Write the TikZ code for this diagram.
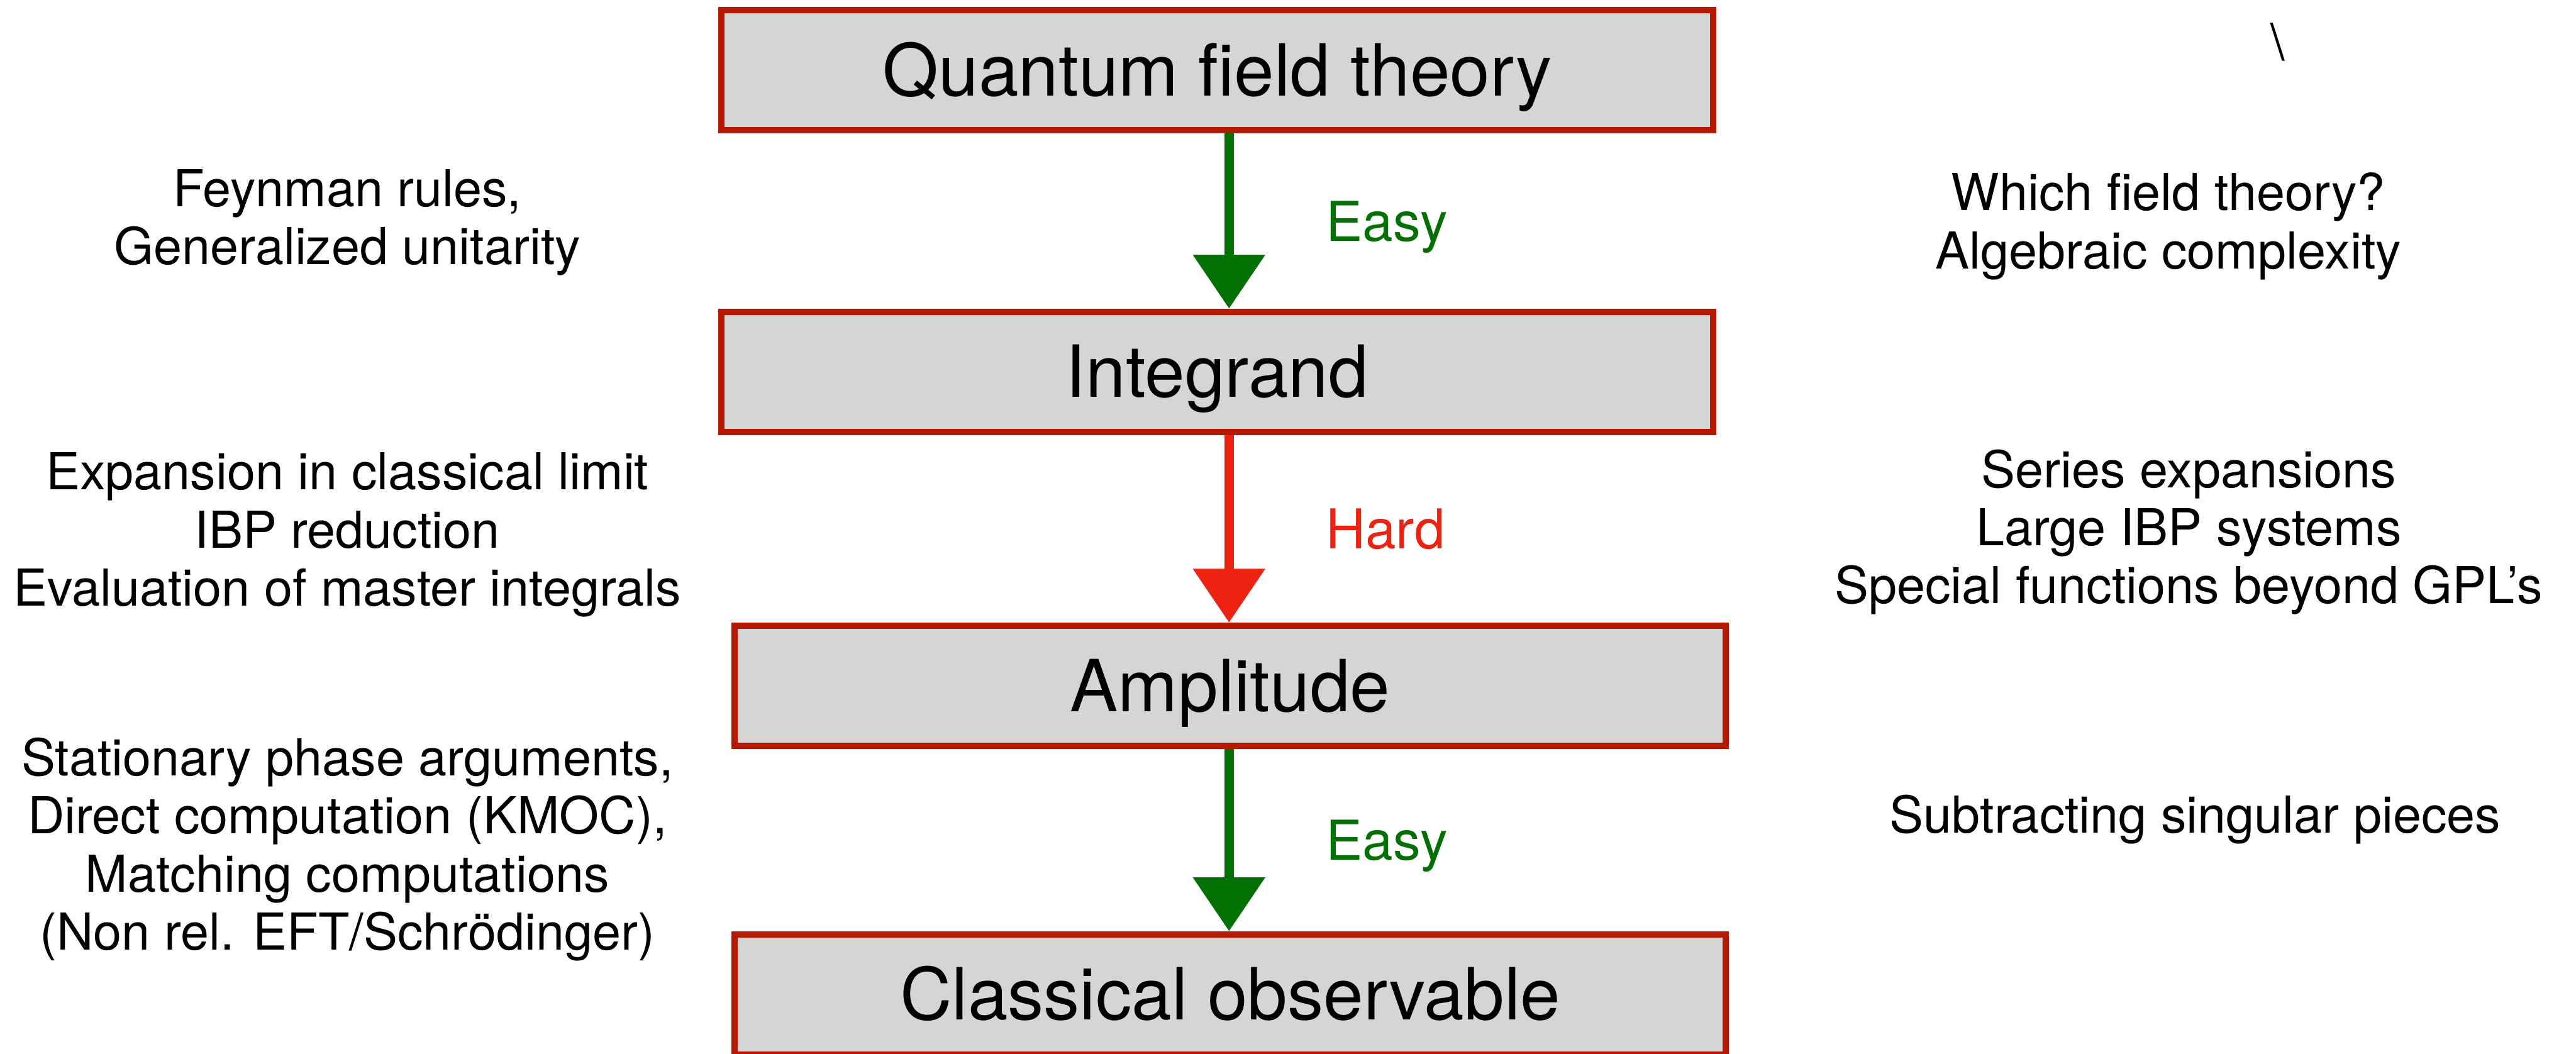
\documentclass[tikz,border=0pt]{standalone}
\usepackage{fontspec}
\setmainfont{TeX Gyre Heros}
\usetikzlibrary{arrows.meta,positioning}
\definecolor{boxred}{RGB}{181,26,0}
\definecolor{boxgray}{RGB}{213,213,213}
\definecolor{easygreen}{RGB}{3,112,3}
\definecolor{hardred}{RGB}{237,34,17}

\begin{document}
\begin{tikzpicture}[>=Latex,
box/.style={draw=boxred,fill=boxgray,line width=1.2mm,minimum width=18.41cm,minimum height=2.23cm,font=\fontsize{38}{45}\selectfont,text height=27pt,text depth=0pt},
note/.style={align=center,font=\fontsize{26.9}{30.7}\selectfont},
lbl/.style={inner sep=0pt,outer sep=0pt,font=\fontsize{29}{35}\selectfont,text height=21pt,text depth=0pt},
arrow/.style={line width=1.8mm,-{Triangle[width=13mm,length=10mm]}}]
\useasboundingbox (0,0) rectangle (47.83,-19.57);
\node[box] (qft) at (22.60,-1.305) {Quantum field theory};
\node[box,below=3.25cm of qft] (integrand) {Integrand};
\node[box,below=3.48cm of integrand,xshift=2.4mm] (amp) {Amplitude};
\node[box,below=3.38cm of amp] (obs) {Classical observable};
\coordinate (ax) at (22.82,0);
\draw[arrow,easygreen] (qft.south -| ax) -- node[lbl,right=1.8cm] {Easy} (integrand.north -| ax);
\draw[arrow,hardred] (integrand.south -| ax) -- node[lbl,right=1.8cm] {Hard} (amp.north -| ax);
\draw[arrow,easygreen] (amp.south -| ax) -- node[lbl,right=1.8cm] {Easy} (obs.north -| ax);
% methods on the left, difficulties on the right
\node[note] (rules) at (6.45,-4.13) {Feynman rules,\\Generalized unitarity};
\node[note] (reduce) at (6.45,-9.93) {Expansion in classical limit\\IBP reduction\\Evaluation of master integrals};
\node[note] (extract) at (6.45,-15.77) {Stationary phase arguments,\\Direct computation (KMOC),\\Matching computations\\(Non rel. EFT/Schrödinger)};
\node[note] (theory) at (40.26,-4.20) {Which field theory?\\Algebraic complexity};
\node[note] (series) at (40.64,-9.88) {Series expansions\\Large IBP systems\\Special functions beyond GPL’s};
\node[note] (subtract) at (40.76,-15.22) {Subtracting singular pieces};
\node[note] (slash) at (42.29,-0.78) {\textbackslash};
\end{tikzpicture}
\end{document}
